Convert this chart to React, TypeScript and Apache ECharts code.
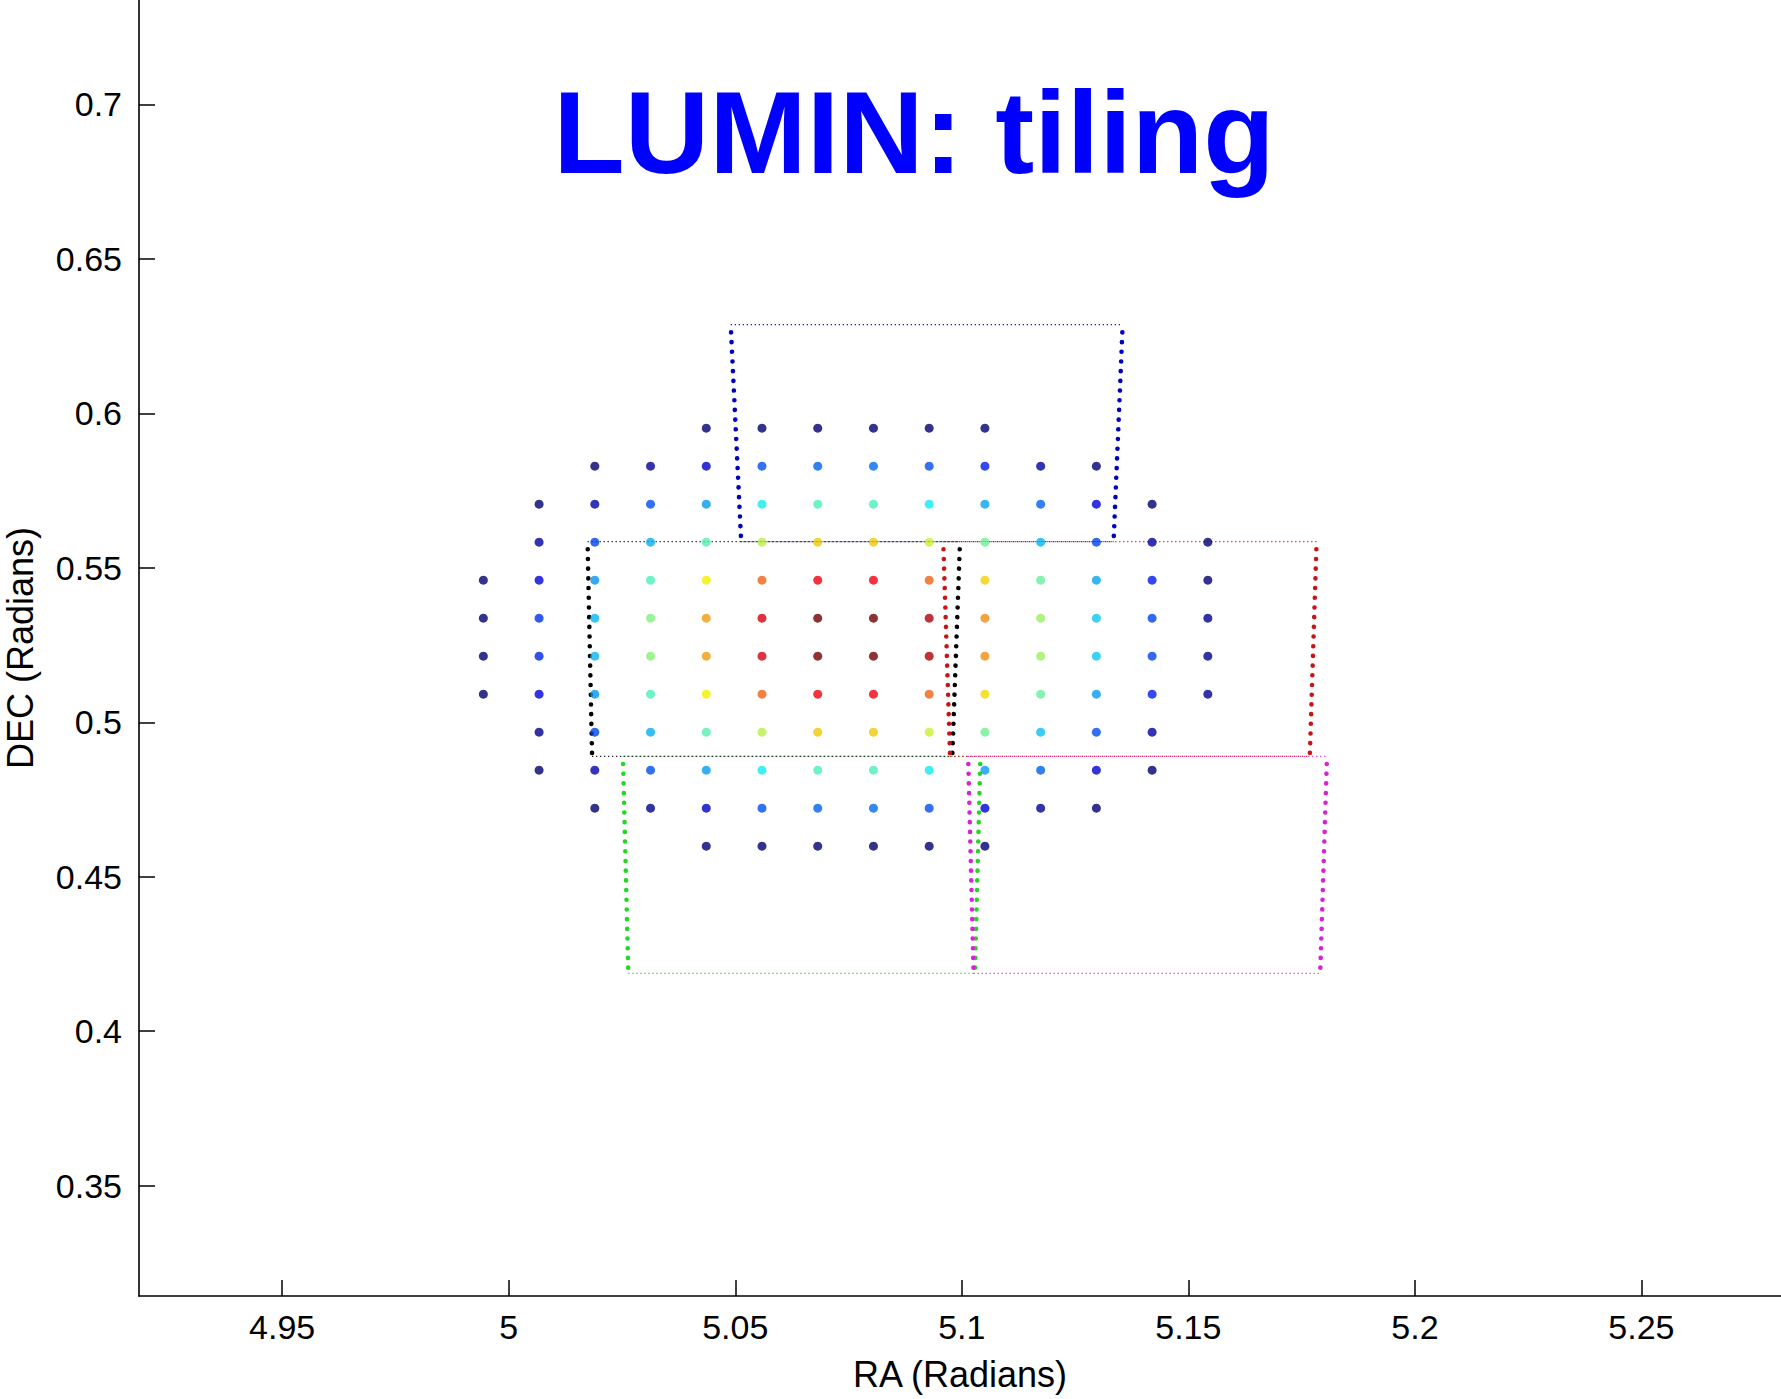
import React, { useEffect, useRef } from 'react';
import * as echarts from 'echarts';

// Axis ticks and ranges
const raTicks = [4.95, 5, 5.05, 5.1, 5.15, 5.2, 5.25];
const decTicks = [0.35, 0.4, 0.45, 0.5, 0.55, 0.6, 0.65, 0.7];
const raRange = [4.9184, 5.2808];
const decRange = [0.3143, 0.7338];

// Pointing grid (RA columns, DEC rows)
const gridRA = [4.9944, 5.0067, 5.019, 5.0313, 5.0436, 5.0559, 5.0682, 5.0805, 5.0928, 5.1051, 5.1174, 5.1297, 5.142, 5.1543];
const gridDEC = [0.5952, 0.5829, 0.5706, 0.5583, 0.546, 0.5337, 0.5214, 0.5091, 0.4968, 0.4845, 0.4722, 0.4599];

// Level of each grid point (jet colour scale 0..1), null = no point
const _ = null;
const dotLevels = [
  [_, _, _, _, 0, 0, 0, 0, 0, 0, _, _, _, _],
  [_, _, 0, 0.04, 0.09, 0.2, 0.22, 0.23, 0.2, 0.15, 0.05, 0, _, _],
  [_, 0, 0.06, 0.2, 0.28, 0.37, 0.44, 0.44, 0.37, 0.29, 0.22, 0.11, 0, _],
  [_, 0.05, 0.19, 0.3, 0.45, 0.56, 0.67, 0.67, 0.58, 0.48, 0.31, 0.19, 0.05, 0],
  [0, 0.11, 0.27, 0.44, 0.625, 0.78, 0.875, 0.875, 0.78, 0.66, 0.47, 0.29, 0.15, 0],
  [0, 0.17, 0.31, 0.5, 0.72, 0.9, 1.0, 1.0, 0.94, 0.735, 0.53, 0.33, 0.19, 0.03],
  [0, 0.16, 0.31, 0.51, 0.72, 0.9, 1.0, 1.0, 0.94, 0.735, 0.53, 0.33, 0.19, 0.03],
  [0, 0.11, 0.27, 0.44, 0.625, 0.78, 0.875, 0.875, 0.78, 0.65, 0.47, 0.28, 0.15, 0.03],
  [_, 0.03, 0.19, 0.3, 0.45, 0.56, 0.67, 0.67, 0.58, 0.48, 0.32, 0.2, 0.05, _],
  [_, 0, 0.06, 0.2, 0.28, 0.37, 0.44, 0.44, 0.37, 0.28, 0.22, 0.1, 0, _],
  [_, _, 0, 0.03, 0.09, 0.2, 0.22, 0.23, 0.2, 0.11, 0.04, 0, _, _],
  [_, _, _, _, 0, 0, 0, 0, 0, 0, _, _, _, _],
];

// Jet colour map stops (evenly spaced 0..1)
const jetColors = ['#000070', '#0000E8', '#0080F0', '#10F0F0', '#80F080', '#F0F000', '#F08010', '#F00010', '#700000'];

// Tiles (camera footprints)
const tileColors = ['#0000C0', '#000000', '#C81414', '#22D822', '#D822D8'];
const tileTopDEC = [0.6287, 0.5585, 0.5585, 0.489, 0.489];
const tileBottomDEC = [0.5585, 0.489, 0.489, 0.41875, 0.41875];
const tileLeftTopRA = [5.049, 5.0174, 5.0959, 5.0252, 5.1014];
const tileLeftBottomRA = [5.0513, 5.0184, 5.0974, 5.0264, 5.1026];
const tileRightTopRA = [5.1355, 5.0996, 5.1783, 5.1041, 5.1806];
const tileRightBottomRA = [5.1335, 5.0979, 5.1768, 5.1029, 5.1791];

const FONT = '"Liberation Sans", Arial, sans-serif';

function buildOption() {
  const series: any[] = [];
  tileColors.forEach((c, i) => {
    const hStyle = { color: c, width: 1.2, type: [1.2, 2.8], opacity: 0.95 };
    const vStyle = { color: c, width: 4.6, type: [0.01, 9.69], cap: 'round', dashOffset: 1.7 };
    const mk = (data: number[][], ls: any) => ({
      type: 'line',
      data,
      symbol: 'none',
      showSymbol: false,
      silent: true,
      lineStyle: ls,
      z: 2,
      emphasis: { disabled: true },
    });
    series.push(mk([[tileLeftTopRA[i], tileTopDEC[i]], [tileRightTopRA[i], tileTopDEC[i]]], hStyle));
    series.push(mk([[tileLeftBottomRA[i], tileBottomDEC[i]], [tileRightBottomRA[i], tileBottomDEC[i]]], hStyle));
    series.push(mk([[tileLeftTopRA[i], tileTopDEC[i]], [tileLeftBottomRA[i], tileBottomDEC[i]]], vStyle));
    series.push(mk([[tileRightTopRA[i], tileTopDEC[i]], [tileRightBottomRA[i], tileBottomDEC[i]]], vStyle));
  });

  const dots: number[][] = [];
  dotLevels.forEach((row, r) => {
    row.forEach((v, c) => {
      if (v !== null) dots.push([gridRA[c], gridDEC[r], v as number]);
    });
  });
  const scatterIndex = series.length;
  series.push({
    type: 'scatter',
    data: dots,
    symbol: 'circle',
    symbolSize: 9,
    silent: true,
    z: 3,
    emphasis: { disabled: true },
  });

  return {
    animation: false,
    backgroundColor: '#ffffff',
    grid: { left: 139, right: 0, top: 0, bottom: 103, containLabel: false, outerBoundsMode: 'none' },
    visualMap: {
      show: false,
      type: 'continuous',
      min: 0,
      max: 1,
      dimension: 2,
      seriesIndex: scatterIndex,
      inRange: { color: jetColors },
    },
    graphic: [
      {
        type: 'text',
        x: 914,
        y: 132,
        style: {
          text: 'LUMIN: tiling',
          fontSize: 117,
          fontWeight: 'bold',
          fontFamily: FONT,
          fill: '#0000FF',
          align: 'center',
          verticalAlign: 'middle',
        },
      },
    ],
    xAxis: {
      type: 'value',
      min: raRange[0],
      max: raRange[1],
      name: 'RA (Radians)',
      nameLocation: 'middle',
      nameGap: 60,
      nameTextStyle: { fontSize: 36, fontFamily: FONT, color: '#000' },
      axisLine: { show: true, onZero: false, lineStyle: { color: '#000', width: 1.6 } },
      axisTick: { show: true, inside: true, length: 16, customValues: raTicks, lineStyle: { color: '#000', width: 1.5 } },
      axisLabel: { show: true, customValues: raTicks, margin: 14, fontSize: 34, fontFamily: FONT, color: '#000' },
      splitLine: { show: false },
    },
    yAxis: {
      type: 'value',
      min: decRange[0],
      max: decRange[1],
      name: 'DEC (Radians)',
      nameLocation: 'middle',
      nameGap: 101,
      nameTextStyle: { fontSize: 36, fontFamily: FONT, color: '#000' },
      axisLine: { show: true, onZero: false, lineStyle: { color: '#000', width: 1.6 } },
      axisTick: { show: true, inside: true, length: 16, customValues: decTicks, lineStyle: { color: '#000', width: 1.5 } },
      axisLabel: { show: true, customValues: decTicks, margin: 17, fontSize: 34, fontFamily: FONT, color: '#000' },
      splitLine: { show: false },
    },
    series,
  };
}

export default function App() {
  const ref = useRef<HTMLDivElement>(null);
  useEffect(() => {
    if (!ref.current) return;
    const chart = echarts.init(ref.current, null, { renderer: 'svg' });
    chart.setOption(buildOption() as any);
    return () => chart.dispose();
  }, []);
  return (
    <div
      ref={ref}
      style={{ position: 'absolute', left: 0, top: 0, width: 1781, height: 1399, background: '#fff' }}
    />
  );
}
